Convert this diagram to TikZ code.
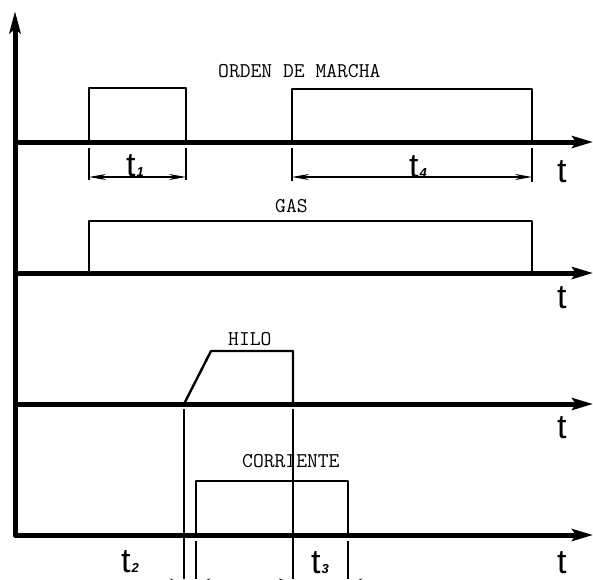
\documentclass[tikz,border=0pt]{standalone}
\usepackage{fontspec}
\newfontfamily\tfont{Liberation Sans}
\usetikzlibrary{arrows.meta}
\tikzset{
  axis/.style={line width=5pt, line join=round, -{Stealth[length=21pt,width=12pt,inset=4pt]}},
  pulse/.style={line width=2.4pt, line join=round},
  thin/.style={line width=1.1pt},
  dimline/.style={line width=1.1pt, {Stealth[length=17pt,width=6pt]}-{Stealth[length=17pt,width=6pt]}},
  halfarrow/.style={line width=1.1pt, -{Stealth[length=14pt,width=11pt]}},
  sig/.style={font=\ttfamily\fontsize{21}{21}\selectfont, inner sep=0pt, anchor=base west},
  tlab/.style={font=\tfont\fontsize{34}{34}\selectfont, inner sep=0pt, anchor=base west}
}
\newcommand{\tsub}[1]{t\kern1pt{\bfseries\itshape\fontsize{13}{13}\selectfont #1}}
\begin{document}
\begin{tikzpicture}[x=1pt,y=-1pt]
\useasboundingbox (0,0) rectangle (593,579);
\fill[white] (0,0) rectangle (593,579);
\clip (0,0) rectangle (593,579);
% coordinates
\coordinate (o1) at (15,142); \coordinate (e1) at (593,142);
\coordinate (o2) at (15,273); \coordinate (e2) at (593,273);
\coordinate (o3) at (15,404); \coordinate (e3) at (593,404);
\coordinate (o4) at (15,535); \coordinate (e4) at (593,535);
\coordinate (top) at (15,11);
% axes
\draw[axis, {Stealth[length=22pt,width=11pt,inset=4pt]}-{Stealth[length=21pt,width=12pt,inset=4pt]}] (top) -- (o4) -- (e4);
\draw[axis] (o1) -- (e1);
\draw[axis] (o2) -- (e2);
\draw[axis] (o3) -- (e3);
% ORDEN DE MARCHA
\draw[pulse] (89,142) -- (89,88) -- (186,88) -- (186,142);
\draw[pulse] (292,142) -- (292,89) -- (532,89) -- (532,142);
\node[sig] (orden) at (218,77) {ORDEN DE MARCHA};
% t1 dimension
\coordinate (a1) at (89,177); \coordinate (b1) at (186,177);
\draw[thin] (89,148) -- (89,180);
\draw[thin] (186,148) -- (186,180);
\draw[dimline] (a1) -- (b1);
\node[tlab] (t1) at (126,176) {\tsub{1}};
% t4 dimension
\coordinate (a4) at (292,177); \coordinate (b4) at (532,177);
\draw[thin] (292,148) -- (292,181);
\draw[thin] (532,148) -- (532,182);
\draw[dimline] (a4) -- (b4);
\node[tlab] (t4) at (409,177) {\tsub{4}};
\node[tlab] (tt1) at (557,182) {t};
% GAS
\draw[pulse] (89,273) -- (89,221) -- (532,221) -- (532,273);
\node[sig] (gas) at (275,212) {GAS};
\node[tlab] (tt2) at (557,308) {t};
% HILO
\draw[pulse] (184,404) -- (211,351) -- (293,351) -- (293,404);
\node[sig] (hilo) at (228,345) {HILO};
\node[tlab] (tt3) at (557,438) {t};
% CORRIENTE
\draw[pulse] (196,535) -- (196,481) -- (348,481) -- (348,535);
\node[sig] (corr) at (242,467) {CORRIENTE};
\node[tlab] (tt4) at (557,573) {t};
% vertical reference lines
\draw[thin] (184,409) -- (184,579);
\draw[thin] (293,409) -- (293,579);
\draw[thin] (196,541) -- (196,579);
\draw[thin] (348,541) -- (348,579);
\node[tlab] (t2) at (121,572) {\tsub{2}};
\node[tlab] (t3) at (311,573) {\tsub{3}};
% clipped dimension arrows below the frame
\coordinate (p1) at (184,584); \coordinate (q1) at (150,584);
\coordinate (p2) at (196,584); \coordinate (q2) at (230,584);
\coordinate (p3) at (293,584); \coordinate (q3) at (255,584);
\coordinate (p4) at (348,584); \coordinate (q4) at (380,584);
\draw[halfarrow] (q1) -- (p1);
\draw[halfarrow] (q2) -- (p2);
\draw[halfarrow] (q3) -- (p3);
\draw[halfarrow] (q4) -- (p4);
\end{tikzpicture}
\end{document}
